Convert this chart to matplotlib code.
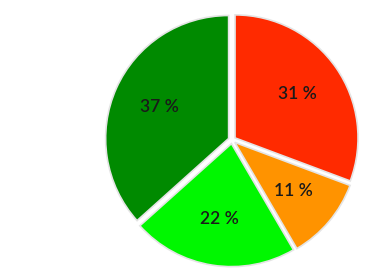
import matplotlib
matplotlib.use("Agg")
import matplotlib.pyplot as plt

labels = ["31 %", "11 %", "22 %", "37 %"]
values = [31, 11, 22, 37]
colors = ["#ff2a00", "#ff9300", "#00f700", "#008a00"]

W, H = 385, 278
fig = plt.figure(figsize=(W / 100, H / 100), dpi=100)
cx, cy, R = 232, 140, 123
half = 1.1 * R
ax = fig.add_axes([(cx - half) / W, (H - cy - half) / H, 2 * half / W, 2 * half / H])

wedges, texts = ax.pie(
    values,
    colors=colors,
    startangle=90,
    counterclock=False,
    explode=[0.03] * len(values),
    labels=labels,
    labeldistance=0.62,
    wedgeprops=dict(edgecolor="#e4e4e4", linewidth=1.2),
    textprops=dict(fontsize=12.5, color="#1a1a1a", family=["Lato", "DejaVu Sans"],
                   weight="semibold", ha="center", va="center"),
)
ax.set_xlim(-1.1, 1.1)
ax.set_ylim(-1.1, 1.1)
ax.set_aspect("auto")
ax.axis("off")
fig.savefig("out.png", dpi=100)
